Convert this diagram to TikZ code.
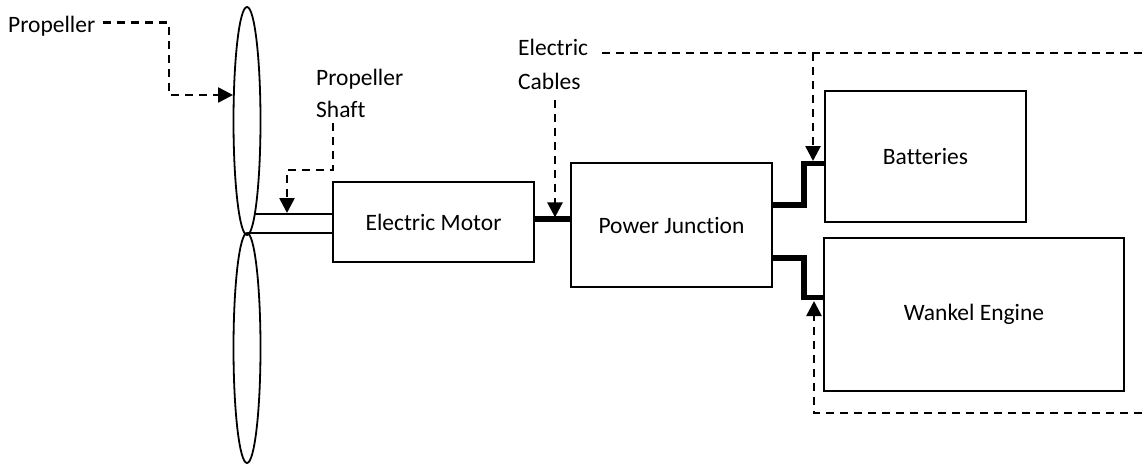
\documentclass[tikz,border=0pt]{standalone}
\usepackage{fontspec}
\setmainfont{Carlito}[Ligatures=NoCommon]
\usetikzlibrary{arrows.meta, shapes.geometric, calc}

\begin{document}
\begin{tikzpicture}[x=1pt, y=-1pt,
    labeltext/.style={inner sep=0pt, anchor=base west, align=left, font=\fontsize{23.5}{32}\selectfont},
    unitbox/.style={draw, line width=1.8pt, inner sep=0pt, font=\fontsize{23.5}{28}\selectfont},
    blade/.style={draw, ellipse, line width=1.8pt, minimum width=27pt, inner sep=0pt},
    leader/.style={line width=2.6pt, dash pattern=on 8pt off 6pt},
    pointer/.style={leader, -{Triangle[length=15pt,width=15pt]}},
    cable/.style={line width=5.5pt},
    shaft/.style={line width=1.6pt}]
  \useasboundingbox (0,0) rectangle (1142,466);
  % Propeller blades
  \node[blade, minimum height=228pt] (bladeup) at (247,121) {};
  \node[blade, minimum height=230pt] (bladedown) at (247,348) {};
  % Units
  \node[unitbox, minimum width=201pt, minimum height=80pt] (motor) at (433.5,222) {Electric Motor};
  \node[unitbox, minimum width=201pt, minimum height=124pt] (junction) at (671.5,225) {Power Junction};
  \node[unitbox, minimum width=201pt, minimum height=131pt] (batt) at (925.5,156.5) {Batteries};
  \node[unitbox, minimum width=300pt, minimum height=153pt] (wankel) at (974,314.5) {Wankel Engine};
  % Labels (base = last line)
  \node[labeltext] (proplbl) at (8,32) {Propeller};
  \node[labeltext] (shaftlbl) at (316,117) {Propeller\\Shaft};
  \node[labeltext, font=\fontsize{23.5}{34}\selectfont] (cableslbl) at (518,89) {Electric\\Cables};
  % Shaft
  \coordinate (shafttop) at (255,214);
  \coordinate (shaftbot) at (248,233);
  \draw[shaft] (shafttop) -- (shafttop -| motor.west);
  \draw[shaft] (shaftbot) -- (shaftbot -| motor.west);
  % Power cables
  \coordinate (motorout) at ([yshift=3pt]motor.east);
  \draw[cable] (motorout) -- (motorout -| junction.west);
  \draw[cable] ([yshift=20pt]junction.east) -- ++(31,0) |- ([yshift=-7pt]batt.west);
  \draw[cable] ([yshift=-33pt]junction.east) -- ++(31,0) |- ([yshift=17pt]wankel.west);
  % Pointers
  \coordinate (proptip) at (233,95);
  \coordinate (shafttip) at (287,213);
  \draw[pointer] ([xshift=8pt,yshift=3pt]proplbl.east) -| ($(proptip)+(-64,0)$) -- (proptip);
  \draw[pointer] ([xshift=17pt,yshift=-6pt]shaftlbl.south west) |- ($(shafttip)+(0,-43)$) -- (shafttip);
  \draw[pointer] ([xshift=37pt,yshift=-11pt]cableslbl.south west) -- ++(0,117);
  \coordinate (loopstart) at (602,53);
  \coordinate (loopNE) at (1142,53);
  \coordinate (loopSE) at (1142,413);
  \coordinate (batttip) at (813,161);
  \coordinate (wanktip) at (814,301);
  \draw[leader] (loopstart) -- (loopNE);
  \draw[pointer] (batttip |- loopNE) -- (batttip);
  \draw[pointer] (loopSE) -| (wanktip);
\end{tikzpicture}
\end{document}
